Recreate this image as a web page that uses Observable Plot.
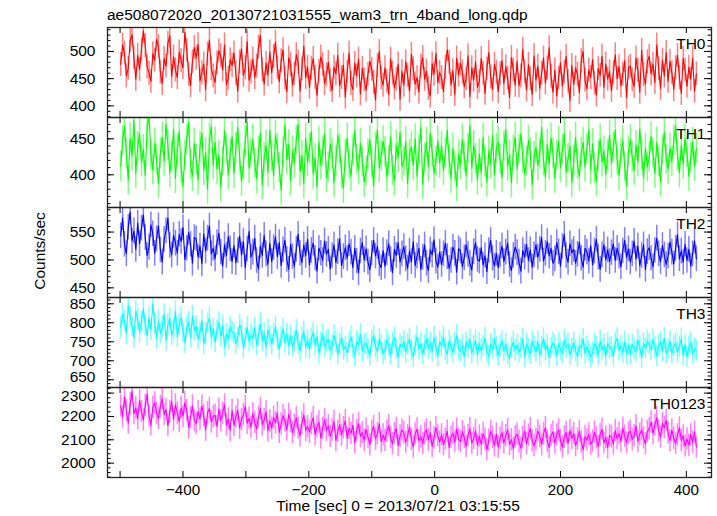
<!DOCTYPE html>
<html><head><meta charset="utf-8">
<script src="https://cdn.jsdelivr.net/npm/d3@7"></script>
<script src="https://cdn.jsdelivr.net/npm/@observablehq/plot@0.6"></script>
<style>
body{margin:0;background:#fff;font-family:"Liberation Sans",Arial,Helvetica,sans-serif;}
#chart{position:relative;width:717px;height:516px;overflow:hidden;background:#fff;}
#chart svg{position:absolute;left:0;}
.txt{position:absolute;font-size:15.5px;line-height:12px;color:#000;white-space:nowrap;}
</style></head><body><div id="chart"></div>
<script>
const title = "ae508072020_20130721031555_wam3_trn_4band_long.qdp";
const xLabel = "Time [sec] 0 = 2013/07/21 03:15:55";
const yLabel = "Counts/sec";
const bandNames = ["TH0", "TH1", "TH2", "TH3", "TH0123"];
const timeStart = -499, timeStep = 3;

const th0 = [
476,512,497,455,469,520,531,488,449,493,
467,503,538,511,472,460,445,496,484,522,
509,462,441,487,473,515,529,454,490,466,
452,499,483,470,535,502,458,437,481,507,
488,513,446,461,477,430,495,521,468,455,
443,479,501,492,466,512,439,451,485,474,
497,460,427,481,505,456,470,518,447,462,
486,452,473,508,529,466,440,478,457,499,
461,491,517,470,444,483,503,451,426,488,
476,438,459,494,480,427,468,510,452,471,
434,469,487,452,419,463,490,476,441,457,
480,446,428,471,459,493,437,452,475,416,
462,497,441,430,478,455,486,422,469,448,
429,458,482,467,443,411,474,500,451,438,
470,445,421,486,460,433,449,477,412,463,
438,481,456,427,495,468,440,452,425,473,
489,449,464,432,418,477,458,496,443,461,
452,426,471,503,480,439,465,421,488,457,
478,462,435,450,492,417,470,447,481,434,
445,487,460,423,468,498,453,430,476,462,
426,459,483,441,472,451,415,489,466,438,
482,437,455,504,463,429,476,450,421,492,
447,473,432,460,488,442,469,507,454,425,
466,418,451,479,436,462,491,445,410,474,
439,470,458,424,483,500,447,431,466,452,
485,442,420,469,456,491,434,477,449,463,
428,461,494,450,472,437,458,483,416,470,
473,448,436,488,465,425,502,457,440,481,
491,459,477,443,512,468,432,484,455,498,
445,482,461,430,470,493,452,423,487,466,
436,471,449,488,427,459];

const th1 = [
412,447,468,430,393,451,426,476,402,439,
457,418,435,399,466,482,428,407,444,421,
388,430,452,419,470,441,403,426,463,395,
436,460,410,384,427,449,473,415,398,444,
421,393,439,458,406,431,380,450,467,414,
445,408,427,383,419,461,436,400,429,453,
402,438,466,425,391,414,447,473,409,430,
449,417,395,433,458,386,424,441,404,462,
426,399,455,437,410,379,432,469,421,442,
392,433,416,448,470,405,427,388,451,418,
437,460,401,423,384,446,414,433,457,396,
411,443,429,389,419,455,436,402,381,428,
451,415,398,434,461,422,407,444,418,390,
405,429,448,417,385,438,463,410,426,447,
432,397,420,453,406,392,441,424,459,412,
419,446,388,428,439,413,450,398,434,466,
387,423,445,411,458,431,402,419,447,416,
440,406,430,462,421,395,437,412,384,428,
414,449,425,399,436,468,409,441,423,393,
429,403,451,418,390,433,415,455,400,437,
446,421,396,440,463,412,427,389,434,452,
408,435,457,424,401,419,448,431,386,425,
438,413,429,466,420,397,442,415,451,430,
395,427,446,410,435,458,404,423,440,389,
420,452,415,398,431,445,411,436,462,407,
443,409,391,426,450,418,433,401,428,455,
416,438,462,421,399,430,447,412,385,432,
449,424,406,441,418,464,427,396,437,411,
425,453,430,402,445,419,390,434,459,422,
408,437,419,448,467,426,403,441,415,450,
431,398,424,445,412,437];

const th2 = [
543,575,528,511,559,586,534,552,519,566,
529,557,581,540,508,523,563,547,512,538,
561,518,496,537,552,575,526,509,544,530,
512,546,533,558,501,521,549,528,494,540,
538,505,525,493,547,516,539,561,511,521,
502,531,548,514,489,527,508,542,520,497,
526,495,517,543,509,533,486,520,551,505,
514,539,499,484,525,508,544,511,492,530,
497,522,541,506,531,490,518,535,501,483,
528,506,489,519,546,512,495,527,508,537,
491,517,530,503,480,521,512,499,534,510,
519,484,508,527,495,515,538,490,506,522,
503,529,514,486,521,498,477,516,531,500,
520,496,482,512,535,507,524,493,486,517,
489,513,529,501,477,519,508,531,496,511,
524,502,485,516,497,533,490,507,521,483,
505,527,494,481,518,509,536,498,487,514,
492,511,530,506,485,499,523,512,478,520,
516,488,504,527,510,494,482,515,531,501,
498,522,491,508,479,517,535,503,489,512,
486,509,525,497,514,530,492,481,508,523,
513,496,480,517,505,528,499,518,487,509,
527,505,519,540,498,512,533,507,521,494,
502,531,515,489,524,546,508,496,529,513,
519,494,510,532,503,487,521,514,498,526,
491,516,537,505,483,509,527,500,518,497,
513,529,499,521,507,488,516,535,504,520,
496,511,534,502,525,490,508,527,483,515,
522,503,488,517,539,511,497,526,509,492,
507,532,514,493,521,545,502,516,496,528,
499,519,489,511,534,502];

const th3 = [
788,823,805,771,846,815,792,760,831,809,
775,802,837,794,766,813,781,850,798,759,
804,772,789,822,753,795,811,768,784,830,
763,796,814,777,747,788,802,761,819,780,
791,758,775,806,744,772,798,813,762,785,
749,780,801,764,792,738,770,757,789,776,
773,746,762,795,781,734,759,788,751,768,
758,787,742,766,799,752,773,736,781,763,
744,770,789,755,731,762,784,748,771,740,
767,738,752,781,745,726,760,776,735,755,
732,759,774,741,763,720,748,769,736,752,
756,728,740,767,749,717,744,761,729,738,
721,748,763,735,712,751,740,770,725,743,
746,731,714,752,766,737,724,757,742,719,
729,755,740,716,747,762,733,709,744,736,
751,722,743,758,728,711,739,764,730,745,
718,741,757,733,748,724,762,736,713,750,
740,763,729,717,752,738,722,746,767,731,
725,742,711,749,734,756,720,738,753,715,
747,727,739,760,723,712,744,731,758,736,
714,738,752,726,743,719,707,735,749,728,
741,722,734,757,711,745,730,718,751,737,
724,750,715,736,759,728,742,709,733,747,
739,713,746,729,720,754,735,744,716,731,
748,726,711,740,733,757,719,737,725,710,
721,745,736,716,752,730,741,713,747,734,
736,712,748,759,727,739,722,750,718,741,
717,743,731,724,755,737,708,746,733,752,
744,729,756,735,712,741,749,726,760,720,
730,751,718,739,746,723,737,758,714,742,
711,736,747,720,732,727];

const th0123 = [
2245,2198,2283,2226,2172,2254,2308,2212,2236,2190,
2268,2221,2185,2247,2296,2203,2164,2238,2259,2214,
2192,2243,2276,2208,2230,2161,2219,2265,2187,2250,
2214,2178,2237,2201,2259,2225,2152,2196,2246,2183,
2170,2221,2189,2245,2204,2141,2216,2234,2176,2199,
2205,2157,2231,2183,2214,2250,2163,2190,2140,2226,
2162,2198,2227,2150,2186,2208,2243,2171,2193,2154,
2212,2175,2146,2197,2234,2164,2187,2220,2139,2181,
2150,2196,2173,2215,2132,2168,2204,2183,2142,2209,
2178,2131,2162,2194,2150,2118,2171,2206,2140,2157,
2133,2168,2195,2122,2155,2176,2108,2149,2186,2141,
2160,2115,2142,2178,2097,2136,2165,2120,2152,2182,
2106,2149,2128,2162,2088,2140,2170,2115,2131,2098,
2145,2112,2079,2136,2158,2104,2126,2169,2092,2121,
2098,2137,2161,2110,2083,2128,2149,2075,2116,2142,
2130,2090,2117,2155,2102,2070,2125,2146,2095,2113,
2084,2126,2143,2099,2131,2072,2108,2152,2117,2090,
2121,2079,2104,2137,2066,2112,2128,2091,2146,2103,
2093,2134,2110,2072,2119,2148,2085,2106,2139,2077,
2116,2081,2127,2103,2058,2098,2136,2111,2074,2125,
2069,2107,2130,2088,2118,2144,2080,2101,2062,2113,
2124,2092,2065,2109,2137,2083,2120,2148,2096,2075,
2101,2138,2115,2079,2126,2152,2094,2067,2118,2133,
2086,2121,2143,2097,2069,2112,2131,2084,2140,2106,
2127,2075,2103,2136,2090,2058,2114,2099,2124,2081,
2095,2133,2108,2071,2122,2145,2087,2111,2066,2119,
2114,2082,2139,2105,2127,2093,2150,2116,2088,2129,
2137,2101,2118,2160,2092,2124,2143,2109,2083,2135,
2148,2176,2127,2163,2195,2138,2112,2170,2152,2184,
2129,2096,2142,2107,2085,2121,2151,2098,2116,2073,
2104,2078,2121,2090,2133,2069];

const errHalf = [22, 21, 23, 28, 48];
const yDomains = [[378.6, 544], [354.6, 479.6], [432.7, 594], [629.7, 866.6], [1938.6, 2324]];
const yTickLabels = [[400, 450, 500], [400, 450], [450, 500, 550], [650, 700, 750, 800, 850], [2000, 2100, 2200, 2300]];
const yMinorStep = [10, 10, 10, 10, 20];
const xTickLabels = [-400, -200, 0, 200, 400];
const xDomain = [-520, 440];

const series = [th0, th1, th2, th3, th0123];
const colors = ["#ff0000", "#00ff00", "#0000ff", "#00ffff", "#ff00ff"];

const W = 717, ML = 107, MR = 6, frameTop = 27, panelH = 90;
const frameW = W - ML - MR;
const chart = document.getElementById("chart");
const fmt = d3.format("d");
const xTicks = d3.range(-500, 441, 100);
const lastIdx = series.length - 1;

series.forEach((vals, i) => {
  const last = i === lastIdx;
  const mt = 3, mb = last ? 36 : 3;
  const data = vals.map((v, k) => ({t: timeStart + k * timeStep, v}));
  const dom = yDomains[i], step = yMinorStep[i], err = errHalf[i];
  const minor = d3.range(Math.ceil(dom[0] / step) * step, dom[1], step);
  const major = yTickLabels[i].concat();
  // labels that sit at a panel edge next to the neighbouring panel's label get a small nudge
  const lowLabel = (i === lastIdx - 1) ? major[0] : null;
  const highLabel = last ? major[major.length - 1] : null;
  const plain = major.filter(v => v !== lowLabel && v !== highLabel);
  const axOpts = {anchor: "left", tickSize: 0, tickPadding: 12, fontSize: 15.5, tickFormat: fmt, label: null};
  const marks = [
    Plot.ruleX(data, {x: "t", y1: d => d.v - err, y2: d => d.v + err, stroke: colors[i], strokeOpacity: 0.5, strokeWidth: 1.5, clip: true}),
    Plot.line(data, {x: "t", y: "v", stroke: colors[i], strokeWidth: 1.1, clip: true}),
    Plot.tickY(minor, {y: d => d, insetRight: frameW - 3.5, stroke: "#000", strokeWidth: 1}),
    Plot.tickY(minor, {y: d => d, insetLeft: frameW - 3.5, stroke: "#000", strokeWidth: 1}),
    Plot.tickY(major, {y: d => d, insetRight: frameW - 7, stroke: "#000", strokeWidth: 1}),
    Plot.tickY(major, {y: d => d, insetLeft: frameW - 7, stroke: "#000", strokeWidth: 1}),
    Plot.tickX(xTicks, {x: d => d, insetBottom: panelH - 6, stroke: "#000", strokeWidth: 1}),
    Plot.tickX(xTicks, {x: d => d, insetTop: panelH - 6, stroke: "#000", strokeWidth: 1}),
    Plot.frame({stroke: "#222", strokeWidth: 1.3}),
    Plot.axisY(plain, axOpts),
    Plot.text([bandNames[i]], {frameAnchor: "top-right", dx: -6, dy: 10, fontSize: 15.5, textAnchor: "end", fill: "#000"})
  ];
  if (lowLabel !== null) marks.push(Plot.axisY([lowLabel], {...axOpts, dy: -2.5}));
  if (highLabel !== null) marks.push(Plot.axisY([highLabel], {...axOpts, dy: 2.5}));
  if (last) marks.push(Plot.axisX(xTickLabels, {anchor: "bottom", tickSize: 0, tickPadding: 7, fontSize: 15.2, tickFormat: fmt, label: null}));
  const svg = Plot.plot({
    width: W, height: panelH + mt + mb,
    marginLeft: ML, marginRight: MR, marginTop: mt, marginBottom: mb,
    x: {domain: xDomain, axis: null},
    y: {domain: dom, axis: null},
    style: {background: "transparent", fontFamily: "'Liberation Sans', Arial, sans-serif", fontSize: "15.5px", color: "#000", overflow: "visible"},
    marks
  });
  svg.style.top = (frameTop + panelH * i - mt) + "px";
  chart.appendChild(svg);
});

function addText(text, css) {
  const d = document.createElement("div");
  d.className = "txt";
  d.textContent = text;
  Object.assign(d.style, css);
  chart.appendChild(d);
  return d;
}
addText(title, {left: "107px", top: "9px"});
addText(xLabel, {left: "398px", top: "500px", transform: "translateX(-50%)"});
addText(yLabel, {left: "40px", top: "251px", transform: "translate(-50%,-50%) rotate(-90deg)"});
</script></body></html>
